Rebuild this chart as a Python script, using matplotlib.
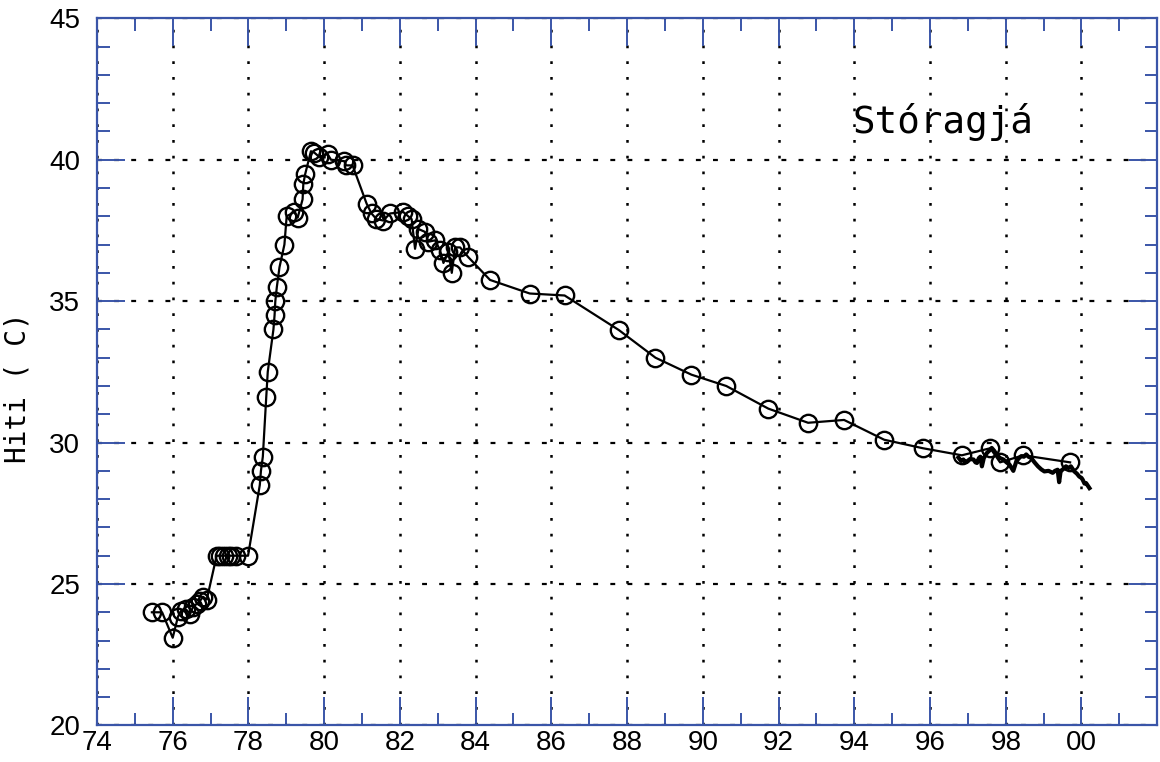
import matplotlib
matplotlib.use("Agg")
import matplotlib.pyplot as plt
from matplotlib.ticker import MultipleLocator, FixedLocator, FixedFormatter

# yearly spot measurements (year, temperature)
years = [75.45, 75.72, 76.0, 76.14, 76.22, 76.35, 76.46, 76.54, 76.64, 76.72, 76.8, 76.9,
         77.16, 77.25, 77.35, 77.45, 77.55, 77.67, 77.99,
         78.3, 78.33, 78.38, 78.47, 78.51, 78.66, 78.69, 78.71, 78.75, 78.82, 78.95,
         79.01, 79.21, 79.3, 79.43, 79.45, 79.5, 79.65, 79.74, 79.87, 80.09, 80.18,
         80.53, 80.58, 80.75, 81.12, 81.25, 81.38, 81.56, 81.74, 82.09, 82.22, 82.31,
         82.4, 82.49, 82.66, 82.75, 82.93, 83.06, 83.15, 83.28, 83.37, 83.46, 83.59,
         83.81, 84.38, 85.43, 86.35, 87.78, 88.75, 89.7, 90.62, 91.73, 92.78, 93.73,
         94.79, 95.81, 96.84, 97.59, 97.85, 98.46, 99.7]
temps = [24.0, 24.0, 23.1, 23.85, 24.05, 24.1, 23.95, 24.2, 24.3, 24.4, 24.55, 24.45,
         26.0, 26.0, 26.0, 26.0, 26.0, 26.0, 26.0,
         28.5, 29.0, 29.5, 31.6, 32.5, 34.0, 34.5, 35.0, 35.5, 36.2, 37.0,
         38.0, 38.15, 37.95, 38.6, 39.15, 39.5, 40.3, 40.25, 40.1, 40.2, 40.0,
         39.95, 39.8, 39.8, 38.45, 38.1, 37.9, 37.85, 38.1, 38.15, 38.0, 37.9,
         36.85, 37.55, 37.45, 37.1, 37.15, 36.8, 36.35, 36.75, 36.0, 36.9, 36.9,
         36.55, 35.75, 35.27, 35.2, 33.98, 33.0, 32.4, 32.0, 31.2, 30.7, 30.8,
         30.1, 29.8, 29.55, 29.8, 29.3, 29.55, 29.3]

# continuous logger record at the end
log_years = [96.75, 96.82, 96.88, 96.93, 96.98, 97.06, 97.15, 97.2, 97.24, 97.29, 97.33,
             97.37, 97.42, 97.5, 97.57, 97.63, 97.7, 97.76, 97.85, 97.94, 98.02, 98.1,
             98.2, 98.28, 98.35, 98.41, 98.48, 98.54, 98.6, 98.67, 98.76, 98.85, 98.94,
             99.02, 99.13, 99.24, 99.3, 99.37, 99.41, 99.45, 99.5, 99.59, 99.66, 99.72,
             99.81, 99.88, 99.94, 100.0, 100.03, 100.08, 100.12, 100.18, 100.21]
log_temps = [29.47, 29.35, 29.4, 29.3, 29.34, 29.42, 29.4, 29.3, 29.28, 29.45, 29.5,
             29.16, 29.45, 29.63, 29.72, 29.81, 29.7, 29.57, 29.45, 29.4, 29.3, 29.22,
             29.0, 29.34, 29.45, 29.52, 29.5, 29.58, 29.5, 29.46, 29.3, 29.16, 29.05,
             28.98, 29.0, 28.93, 29.0, 29.04, 28.6, 29.0, 29.04, 29.16, 29.1, 29.16,
             28.98, 28.9, 28.8, 28.75, 28.69, 28.55, 28.57, 28.45, 28.39]

x_ticks = [74, 76, 78, 80, 82, 84, 86, 88, 90, 92, 94, 96, 98, 100]
x_labels = ['74', '76', '78', '80', '82', '84', '86', '88', '90', '92', '94', '96', '98', '00']

blue = '#3a55a8'

fig = plt.figure(figsize=(11.6, 7.62), dpi=100)
ax = fig.add_axes([0.0836, 0.048, 0.914, 0.928])

ax.plot(log_years, log_temps, color='black', linewidth=3)
ax.plot(years, temps, color='black', linewidth=1.6, marker='o', markersize=12.5,
        markerfacecolor='none', markeredgecolor='black', markeredgewidth=1.7)

ax.set_xlim(74, 102)
ax.set_ylim(20, 45)
ax.xaxis.set_major_locator(FixedLocator(x_ticks))
ax.xaxis.set_major_formatter(FixedFormatter(x_labels))
ax.xaxis.set_minor_locator(MultipleLocator(1))
ax.yaxis.set_major_locator(MultipleLocator(5))
ax.yaxis.set_minor_locator(MultipleLocator(1))

ax.tick_params(which='both', direction='in', top=True, right=True, color=blue,
               width=1.4, labelsize=20, labelcolor='black')
ax.tick_params(which='major', length=20)
ax.tick_params(which='minor', length=9)
ax.tick_params(axis='x', pad=3)
ax.tick_params(axis='y', pad=12)
for lab in ax.get_xticklabels() + ax.get_yticklabels():
    lab.set_family('Liberation Sans')

for s in ax.spines.values():
    s.set_color(blue)
    s.set_linewidth(1.6)

ax.grid(axis='y', which='major', color='black', linewidth=1.6, linestyle=(0, (2.2, 5.5)))
ax.grid(axis='x', which='major', color='black', linewidth=1.8, linestyle=(0, (1.1, 5.2)))

ax.set_ylabel('Hiti ( C)', family='DejaVu Sans Mono', fontsize=20)
ax.yaxis.set_label_coords(-0.062, 0.477)
ax.text(93.94, 40.95, 'Stóragjá', family='DejaVu Sans Mono', fontsize=27,
        ha='left', va='baseline')

plt.savefig('out.png', dpi=100)
plt.close()
